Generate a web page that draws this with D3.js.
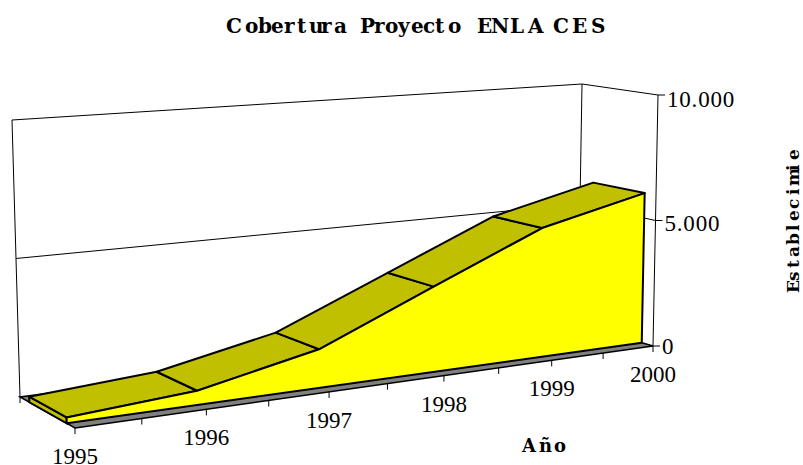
<!DOCTYPE html>
<html>
<head>
<meta charset="utf-8">
<script src="https://cdn.jsdelivr.net/npm/d3@7"></script>
<style>
html, body { margin: 0; padding: 0; background: #fff; overflow: hidden; }
svg { display: block; }
</style>
</head>
<body>
<div id="chart"></div>
<script>
var years = [1995, 1996, 1997, 1998, 1999, 2000];
var establecimientos = [200, 500, 1400, 3200, 5000, 6000];
var valueTicks = [0, 5000, 10000];
var halfTicks = [0, 0.5, 1, 1.5, 2, 2.5, 3, 3.5, 4, 4.5, 5];

var w = 803, h = 465;

// corners of the 3D box as Excel left them [x, y]
var box = {
	floorFrontLeft: [75, 428], floorFrontRight: [653, 346],
	floorBackLeft: [20, 397], floorBackRight: [578, 324],
	topFrontLeft: [66, 128], topFrontRight: [658, 95],
	topBackLeft: [12, 120], topBackRight: [582, 84]
};
var depthFront = 0.15, depthBack = 0.83, perspective = 0.85;

var xS = d3.scaleLinear().domain([0, years.length - 1]).range([0, 1]);
var yS = d3.scaleLinear().domain([0, 10000]).range([0, 1]);
var zS = d3.scaleLinear().domain([0, 1]).range([0, 1]);

function mix(a, b, t)
{
	return [a[0] + (b[0] - a[0]) * t, a[1] + (b[1] - a[1]) * t];
}

// i = year index, value = y value, depth = 0 front .. 1 back
function project(i, value, depth)
{
	var u = xS(i);
	u = u / (u + perspective * (1 - u));
	var v = yS(value), d = zS(depth);
	var bottom = mix(mix(box.floorFrontLeft, box.floorFrontRight, u), mix(box.floorBackLeft, box.floorBackRight, u), d);
	var top = mix(mix(box.topFrontLeft, box.topFrontRight, u), mix(box.topBackLeft, box.topBackRight, u), d);
	return mix(bottom, top, v);
}

var line = d3.line();
var fmt = d3.formatLocale({decimal: ",", thousands: ".", grouping: [3], currency: ["", ""]}).format(",");
var last = years.length - 1;

var svg = d3.select("#chart").append("svg")
	.attr("width", w)
	.attr("height", h);

function wall(points, width)
{
	svg.append("path")
		.attr("d", line(points))
		.attr("fill", "none")
		.attr("stroke", "#000")
		.attr("stroke-width", width || 1);
}

// walls
wall([project(0, 0, 1), project(0, 10000, 1), project(last, 10000, 1), project(last, 10000, 0), project(last, 0, 0)]);
wall([project(last, 10000, 1), project(last, 0, 1)]);
wall([project(0, 5000, 1), project(last, 5000, 1), project(last, 5000, 0)]);

// floor
svg.append("path")
	.attr("d", line([project(0, 0, 0), project(last, 0, 0), project(last, 0, 1), project(0, 0, 1)]) + "Z")
	.attr("fill", "#808080")
	.attr("stroke", "#000")
	.attr("stroke-width", 1.5);

// left side of the area
svg.append("path")
	.attr("d", line([project(0, 0, depthFront), project(0, establecimientos[0], depthFront), project(0, establecimientos[0], depthBack), project(0, 0, depthBack)]) + "Z")
	.attr("fill", "#c0c000")
	.attr("stroke", "#000")
	.attr("stroke-width", 2);

// top bands
svg.append("g").selectAll("path")
	.data(d3.range(last))
	.join("path")
	.attr("d", function(i) {
		return line([
			project(i, establecimientos[i], depthFront),
			project(i + 1, establecimientos[i + 1], depthFront),
			project(i + 1, establecimientos[i + 1], depthBack),
			project(i, establecimientos[i], depthBack)
		]) + "Z";
	})
	.attr("fill", "#c0c000")
	.attr("stroke", "#000")
	.attr("stroke-width", 2)
	.attr("stroke-linejoin", "round");

// front face
var front = years.map(function(d, i) { return project(i, establecimientos[i], depthFront); });
front.push(project(last, 0, depthFront));
front.push(project(0, 0, depthFront));
svg.append("path")
	.attr("d", line(front) + "Z")
	.attr("fill", "#ffff00")
	.attr("stroke", "#000")
	.attr("stroke-width", 2)
	.attr("stroke-linejoin", "round");

// x ticks
svg.append("g").selectAll("line")
	.data(halfTicks)
	.join("line")
	.attr("x1", function(d) { return project(d, 0, 0)[0]; })
	.attr("y1", function(d) { return project(d, 0, 0)[1]; })
	.attr("x2", function(d) { return project(d, 0, 0)[0]; })
	.attr("y2", function(d) { return project(d, 0, 0)[1] + 6; })
	.attr("stroke", "#000");

wall([project(0, 0, 1), [project(0, 0, 1)[0], project(0, 0, 1)[1] + 6]]);

// value ticks
svg.append("g").selectAll("line")
	.data(valueTicks)
	.join("line")
	.attr("x1", function(d) { return project(last, d, 0)[0]; })
	.attr("y1", function(d) { return project(last, d, 0)[1]; })
	.attr("x2", function(d) { return project(last, d, 0)[0] + 7; })
	.attr("y2", function(d) { return project(last, d, 0)[1]; })
	.attr("stroke", "#000");

var serif = "'Liberation Serif', 'Times New Roman', serif";
var slab = "'DejaVu Serif', 'Courier New', serif";

svg.append("g").selectAll("text")
	.data(years)
	.join("text")
	.attr("x", function(d, i) { return project(i, 0, 0)[0]; })
	.attr("y", function(d, i) { return project(i, 0, 0)[1] + 36; })
	.attr("text-anchor", "middle")
	.attr("font-family", serif)
	.attr("font-size", 23)
	.text(function(d) { return d; });

svg.append("g").selectAll("text")
	.data(valueTicks)
	.join("text")
	.attr("x", function(d) { return project(last, d, 0)[0] + 9; })
	.attr("y", function(d) { return project(last, d, 0)[1] + 8 + 4 * yS(d); })
	.attr("font-family", serif)
	.attr("font-size", 23)
	.attr("letter-spacing", 0.8)
	.text(function(d) { return fmt(d); });

// title, letters placed one by one because the original spacing is uneven
var titleText = "Cobertura Proyecto ENLACES";
var titleX = [226, 245, 258, 271, 284, 297, 309, 321, 334, 347, 360, 374, 385, 398, 411, 423, 435, 448, 462, 477, 491, 510, 528, 553, 572, 591];
svg.append("text")
	.attr("x", titleX.join(" "))
	.attr("y", 33)
	.attr("font-family", slab)
	.attr("font-weight", "bold")
	.attr("font-size", 20)
	.text(titleText);

var anoX = [522, 539, 554];
svg.append("text")
	.attr("x", anoX.join(" "))
	.attr("y", 452)
	.attr("font-family", slab)
	.attr("font-weight", "bold")
	.attr("font-size", 18)
	.text("Año");

// monospaced steps along the rotated axis title, cut short like the original
var ejeX = [0, 12, 25, 36, 48, 62, 72, 84, 98, 107, 122, 133];
svg.append("text")
	.attr("transform", "translate(799,293) rotate(-90)")
	.attr("x", ejeX.join(" "))
	.attr("font-family", slab)
	.attr("font-weight", "bold")
	.attr("font-size", 17)
	.text("Establecimie");
</script>
</body>
</html>
